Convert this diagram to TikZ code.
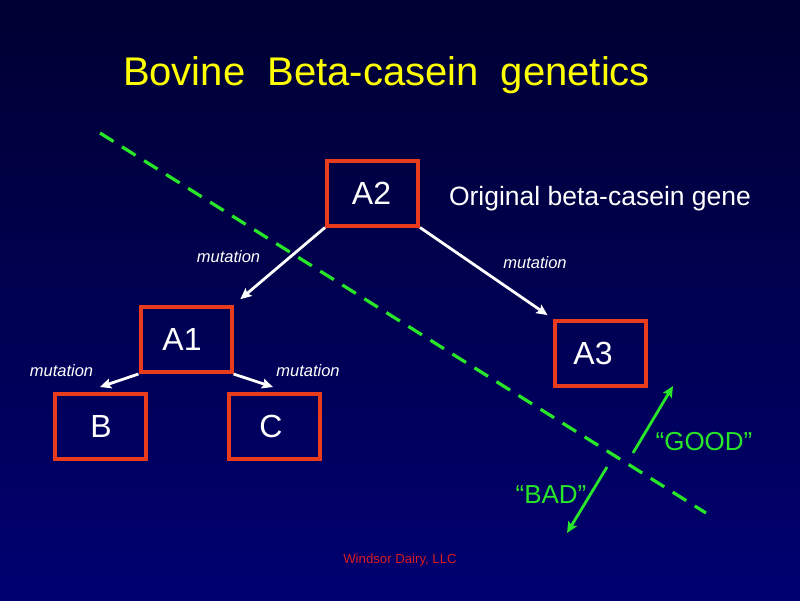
\documentclass[tikz,border=0pt]{standalone}
\usepackage{fontspec}
\setmainfont{Liberation Sans}
\usetikzlibrary{arrows.meta}
\definecolor{bgtop}{RGB}{0,0,50}
\definecolor{bgbot}{RGB}{0,0,112}
\definecolor{boxred}{RGB}{232,60,28}
\definecolor{lime}{RGB}{40,230,40}
\definecolor{titleyellow}{RGB}{255,255,0}
\definecolor{footred}{RGB}{215,30,30}

\begin{document}
\begin{tikzpicture}[x=1pt,y=-1pt,
  genebox/.style={draw=boxred,line width=4pt,minimum width=91pt,minimum height=65pt,inner sep=0pt},
  genelbl/.style={text=white,font=\fontsize{32}{36}\selectfont,inner sep=0pt},
  mut/.style={text=white,font=\fontsize{16.5}{20}\selectfont\itshape,anchor=base,inner sep=0pt},
  verdict/.style={text=lime,font=\fontsize{26}{30}\selectfont,anchor=base,inner sep=0pt},
  whitearrow/.style={draw=white,line width=2.8pt,-{Stealth[length=11pt,width=10pt,inset=2pt]}},
  greenarrow/.style={draw=lime,line width=2.8pt,-{Stealth[length=11pt,width=10pt,inset=2pt]}},
  divider/.style={draw=lime,line width=3.2pt,dash pattern=on 16pt off 10pt}]

% background
\shade[top color=bgtop,bottom color=bgbot] (0,0) rectangle (800,600);
\useasboundingbox (0,0) rectangle (800,600);

% title
\node[anchor=base,text=titleyellow,font=\fontsize{40}{48}\selectfont,inner sep=0pt]
  (title) at (386.5,85) {Bovine\ \ Beta-casein\ \ genetics};

% gene variant boxes
\node[genebox] (A2) at (372.5,193) {};
\node[genebox] (A1) at (186,339.5) {};
\node[genebox] (B)  at (100,426.5) {};
\node[genebox] (C)  at (274,426.5) {};
\node[genebox] (A3) at (600,353) {};

\node[genelbl] (A2t) at ([xshift=-1pt]A2.center) {A2};
\node[genelbl] (A1t) at ([xshift=-4pt]A1.center) {A1};
\node[genelbl] (Bt)  at ([xshift=1pt]B.center) {B};
\node[genelbl] (Ct)  at ([xshift=-3pt]C.center) {C};
\node[genelbl] (A3t) at ([xshift=-7pt]A3.center) {A3};

\node[anchor=base,text=white,font=\fontsize{26.5}{30}\selectfont,inner sep=0pt]
  (orig) at (600,205) {Original beta-casein gene};

% mutation arrows
\coordinate (bTip) at (100,387);
\coordinate (cTip) at (273,387);
\draw[whitearrow,shorten >=9pt] (A2.south west) -- (A1.north east);
\draw[whitearrow,shorten >=6pt] (A2.south east) -- (A3.north west);
\draw[whitearrow] (A1.south west) -- (bTip);
\draw[whitearrow] (A1.south east) -- (cTip);

\node[mut] (m1) at (228.5,262) {mutation};
\node[mut] (m2) at (535,268) {mutation};
\node[mut] (m3) at (61.5,376) {mutation};
\node[mut] (m4) at (308,376) {mutation};

% dividing line between good and bad variants
\coordinate (divA) at (100,133);
\coordinate (divB) at (706,513);
\draw[divider] (divA) -- (divB);

% good / bad direction arrows
\coordinate (goodFrom) at (633,453);
\coordinate (goodTo) at (673,386);
\coordinate (badFrom) at (607,467);
\coordinate (badTo) at (567,533);
\draw[greenarrow] (goodFrom) -- (goodTo);
\draw[greenarrow] (badFrom) -- (badTo);

\node[verdict] (good) at (704,450) {“GOOD”};
\node[verdict] (bad) at (551,503) {“BAD”};

% footer
\node[anchor=base,text=footred,font=\fontsize{13.2}{16}\selectfont,inner sep=0pt]
  (foot) at (400,563) {Windsor Dairy, LLC};
\end{tikzpicture}
\end{document}
